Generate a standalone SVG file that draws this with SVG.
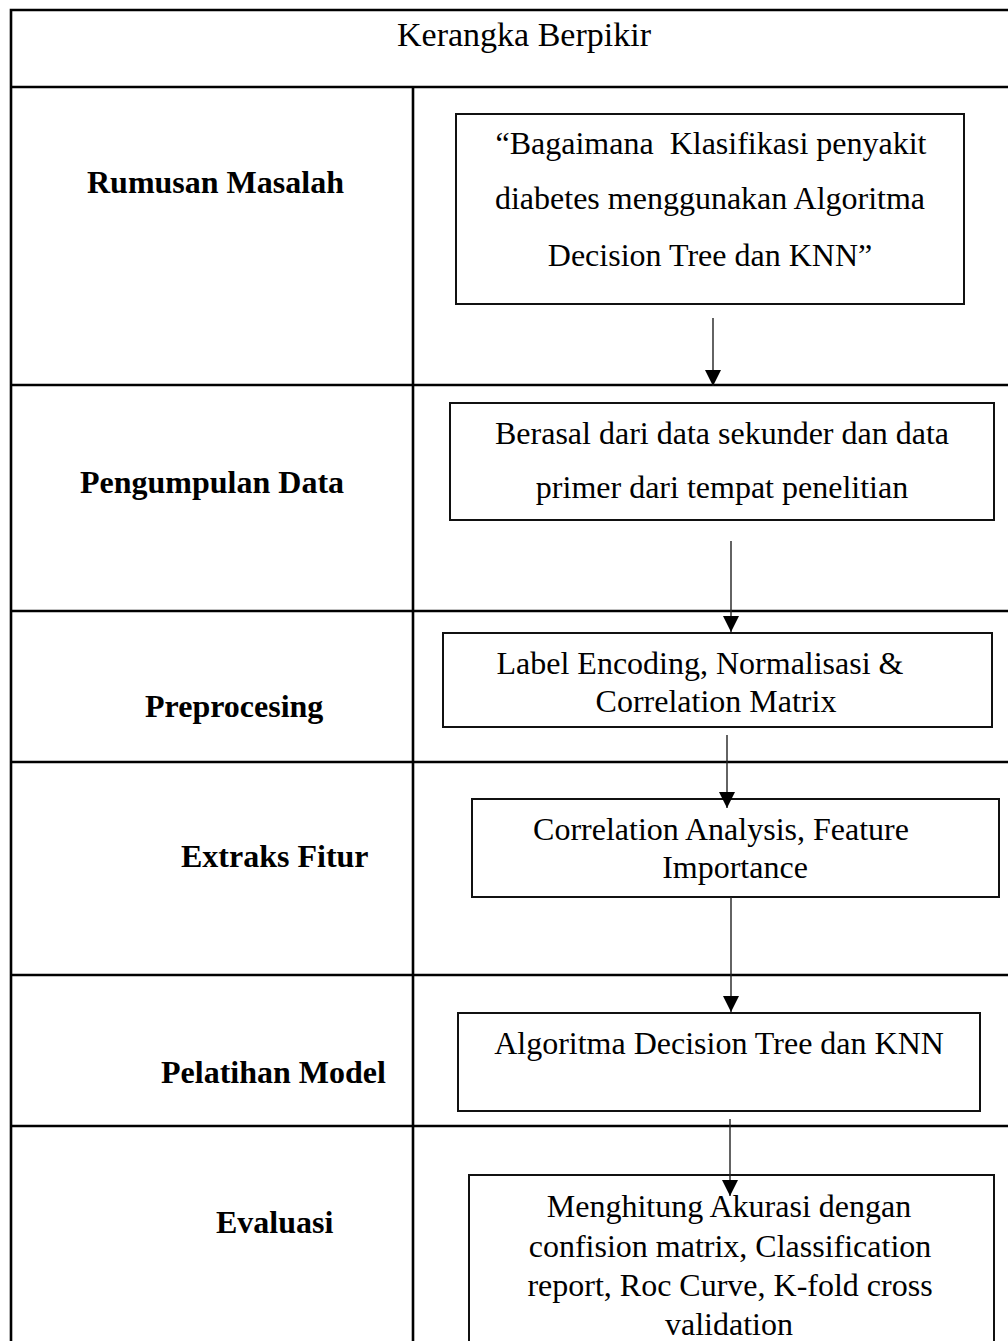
<svg xmlns="http://www.w3.org/2000/svg" width="1008" height="1341" viewBox="0 0 1008 1341">
<defs>
<style>
.grid{stroke:#000;stroke-width:2.6;fill:none}
.box{fill:#fff;stroke:#111;stroke-width:2}
.t{font-family:"Liberation Serif","Times New Roman",serif;font-size:32px;fill:#000;text-anchor:middle}
.lbl{font-family:"Liberation Serif","Times New Roman",serif;font-size:32px;font-weight:bold;fill:#000}
.conn{stroke:#222;stroke-width:1.4;fill:none}
</style>
<marker id="ah" markerWidth="16" markerHeight="16" refX="16" refY="8" orient="auto" markerUnits="userSpaceOnUse">
<path d="M0,0 L16,8 L0,16 Z" fill="#000"/>
</marker>
</defs>
<rect width="1008" height="1341" fill="#fff"/>
<g id="table">
<path class="grid" d="M1012,10 H11 V1345 M11,87 H1012 M413,87 V1345 M11,385 H1012 M11,611 H1012 M11,762 H1012 M11,975 H1012 M11,1126 H1012"/>
<text x="524" y="46" class="t" style="font-size:34px">Kerangka Berpikir</text>
</g>
<g id="labels">
<text x="87" y="193" class="lbl">Rumusan Masalah</text>
<text x="80" y="493" class="lbl">Pengumpulan Data</text>
<text x="145" y="717" class="lbl">Preprocesing</text>
<text x="181" y="867" class="lbl">Extraks Fitur</text>
<text x="161" y="1083" class="lbl">Pelatihan Model</text>
<text x="216" y="1233" class="lbl">Evaluasi</text>
</g>
<g id="n1">
<rect class="box" x="456" y="114" width="508" height="190"/>
<text x="711" y="154" class="t" xml:space="preserve">“Bagaimana  Klasifikasi penyakit</text>
<text x="710" y="209" class="t">diabetes menggunakan Algoritma</text>
<text x="710" y="266" class="t">Decision Tree dan KNN”</text>
</g>
<g id="n2">
<rect class="box" x="450" y="403" width="544" height="117"/>
<text x="722" y="444" class="t">Berasal dari data sekunder dan data</text>
<text x="722" y="498" class="t">primer dari tempat penelitian</text>
</g>
<g id="n3">
<rect class="box" x="443" y="633" width="549" height="94"/>
<text x="700" y="674" class="t">Label Encoding, Normalisasi &amp;</text>
<text x="716" y="712" class="t">Correlation Matrix</text>
</g>
<g id="n4">
<rect class="box" x="472" y="799" width="527" height="98"/>
<text x="721" y="840" class="t">Correlation Analysis, Feature</text>
<text x="735" y="878" class="t">Importance</text>
</g>
<g id="n5">
<rect class="box" x="458" y="1013" width="522" height="98"/>
<text x="719" y="1054" class="t">Algoritma Decision Tree dan KNN</text>
</g>
<g id="n6">
<rect class="box" x="469" y="1175" width="525" height="180"/>
<text x="729" y="1217" class="t">Menghitung Akurasi dengan</text>
<text x="730" y="1257" class="t">confision matrix, Classification</text>
<text x="730" y="1296" class="t">report, Roc Curve, K-fold cross</text>
<text x="729" y="1335" class="t">validation</text>
</g>
<g id="connectors">
<line class="conn" x1="713" y1="318" x2="713" y2="386" marker-end="url(#ah)"/>
<line class="conn" x1="731" y1="541" x2="731" y2="632" marker-end="url(#ah)"/>
<line class="conn" x1="727" y1="735" x2="727" y2="808" marker-end="url(#ah)"/>
<line class="conn" x1="731" y1="897" x2="731" y2="1012" marker-end="url(#ah)"/>
<line class="conn" x1="730" y1="1119" x2="730" y2="1196" marker-end="url(#ah)"/>
</g>
</svg>
